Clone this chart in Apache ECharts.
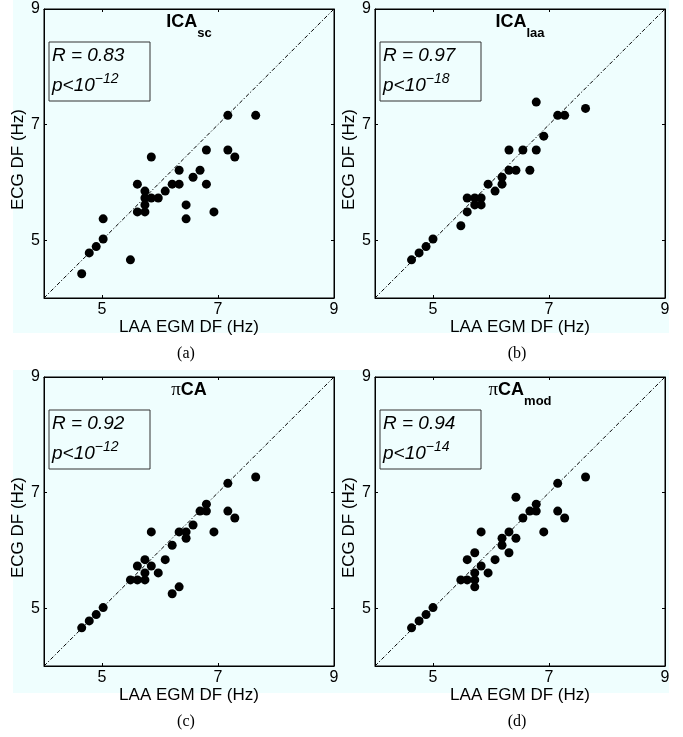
<!DOCTYPE html>
<html>
<head>
<meta charset="utf-8">
<script src="https://cdn.jsdelivr.net/npm/echarts@6/dist/echarts.min.js"></script>
<style>
html,body{margin:0;padding:0;background:#fff;}
#chart{width:683px;height:737px;}
</style>
</head>
<body>
<div id="chart"></div>
<script>
// ---- data ----
const axisMin = 4;
const axisMax = 9;
const tickValues = [5, 7, 9];
const diagLine = [4, 9];

const xA = [4.65,4.78,4.90,5.02,5.02,5.49,5.61,5.61,5.74,5.74,5.74,5.74,5.85,5.85,5.97,6.09,6.21,6.33,6.33,6.45,6.45,6.57,6.69,6.80,6.80,6.93,7.17,7.17,7.29,7.65];
const yA = [4.42,4.78,4.89,5.02,5.37,4.66,5.97,5.49,5.85,5.73,5.61,5.49,6.44,5.73,5.73,5.85,5.97,5.97,6.21,5.61,5.37,6.09,6.21,6.56,5.97,5.49,7.16,6.56,6.44,7.16];

const xB = [4.63,4.76,4.88,5.00,5.48,5.59,5.59,5.72,5.72,5.83,5.83,5.95,6.07,6.19,6.19,6.31,6.31,6.43,6.55,6.67,6.78,6.78,6.91,7.15,7.27,7.63];
const yB = [4.66,4.78,4.89,5.02,5.25,5.73,5.49,5.73,5.61,5.73,5.61,5.97,5.85,6.09,5.97,6.56,6.21,6.21,6.56,6.21,6.56,7.39,6.80,7.16,7.16,7.28];

const xC = [4.65,4.78,4.90,5.02,5.49,5.61,5.74,5.61,5.74,5.74,5.85,5.85,5.97,6.09,6.21,6.21,6.33,6.33,6.45,6.45,6.57,6.69,6.80,6.80,6.93,7.17,7.17,7.29,7.65];
const yC = [4.66,4.78,4.89,5.01,5.49,5.49,5.49,5.73,5.84,5.61,5.73,6.32,5.61,5.84,6.09,5.25,5.37,6.32,6.32,6.21,6.44,6.68,6.68,6.80,6.32,7.16,6.68,6.56,7.27];

const xD = [4.63,4.76,4.88,5.00,5.48,5.59,5.59,5.72,5.72,5.72,5.72,5.83,5.83,5.95,6.07,6.19,6.19,6.31,6.31,6.43,6.43,6.55,6.67,6.78,6.78,6.91,7.15,7.15,7.27,7.63];
const yD = [4.66,4.78,4.89,5.01,5.49,5.49,5.84,5.96,5.61,5.49,5.37,5.73,6.32,5.61,5.84,6.09,6.21,6.32,5.96,6.21,6.92,6.56,6.68,6.68,6.80,6.32,7.16,6.68,6.56,7.27];

const titleMain = ['ICA', 'ICA', 'CA', 'CA'];
const titlePrefix = ['', '', 'π', 'π'];
const titleSub = ['sc', 'laa', '', 'mod'];
const rValues = ['0.83', '0.97', '0.92', '0.94'];
const pExponents = ['−12', '−18', '−12', '−14'];
const captions = ['(a)', '(b)', '(c)', '(d)'];
const xName = 'LAA EGM DF (Hz)';
const yName = 'ECG DF (Hz)';

// ---- layout ----
const FONT = 'Liberation Sans, Arial, Helvetica, sans-serif';
const panels = [
  {left: 44, top: 9},
  {left: 375, top: 9},
  {left: 44, top: 377},
  {left: 375, top: 377}
];
const PW = 290, PH = 289;
const xs = [xA, xB, xC, xD];
const ys = [yA, yB, yC, yD];

const grid = [], xAxis = [], yAxis = [], series = [], graphic = [];

// cyan figure backgrounds (one per row)
graphic.push({type:'rect', z:-100, silent:true, shape:{x:13, y:0, width:656, height:333}, style:{fill:'#effefe'}});
graphic.push({type:'rect', z:-100, silent:true, shape:{x:13, y:370, width:656, height:323}, style:{fill:'#effefe'}});

panels.forEach((p, i) => {
  grid.push({left: p.left, top: p.top, width: PW, height: PH, show: true,
             backgroundColor: 'transparent', borderColor: '#000', borderWidth: 1, containLabel: false});
  const baseAxis = {
    type: 'value', gridIndex: i, min: axisMin, max: axisMax,
    splitLine: {show: false},
    axisLine: {show: true, onZero: false, lineStyle: {color: '#000', width: 1}},
    axisTick: {show: true, inside: true, length: 3, customValues: tickValues, lineStyle: {color: '#000', width: 1}}
  };
  xAxis.push(Object.assign({}, baseAxis, {
    position: 'bottom',
    axisLabel: {customValues: tickValues, fontSize: 16, color: '#000', fontFamily: FONT, margin: 4},
    name: xName, nameLocation: 'middle', nameGap: 17,
    nameTextStyle: {fontSize: 17, color: '#000', fontFamily: FONT}
  }));
  xAxis.push(Object.assign({}, baseAxis, {position: 'top', axisLabel: {show: false}}));
  yAxis.push(Object.assign({}, baseAxis, {
    position: 'left',
    axisLabel: {customValues: tickValues, fontSize: 16, color: '#000', fontFamily: FONT, margin: 4},
    name: yName, nameLocation: 'middle', nameGap: 14,
    nameTextStyle: {fontSize: 17, color: '#000', fontFamily: FONT, padding: [0, 12, 0, 0]}
  }));
  yAxis.push(Object.assign({}, baseAxis, {position: 'right', axisLabel: {show: false}}));

  series.push({
    type: 'line', xAxisIndex: 2*i, yAxisIndex: 2*i, silent: true, symbol: 'none',
    data: [[diagLine[0], diagLine[0]], [diagLine[1], diagLine[1]]],
    lineStyle: {color: '#000', width: 1, type: [4, 2, 1.2, 2]}, z: 1
  });
  series.push({
    type: 'scatter', xAxisIndex: 2*i, yAxisIndex: 2*i, silent: true,
    symbol: 'circle', symbolSize: 9,
    itemStyle: {color: '#000', opacity: 1},
    data: xs[i].map((x, k) => [x, ys[i][k]]), z: 3
  });

  const cx = p.left + PW / 2;
  // title with subscript
  let t = '';
  if (titlePrefix[i]) t += '{pi|' + titlePrefix[i] + '}';
  t += '{b|' + titleMain[i] + '}';
  if (titleSub[i]) t += '{s|' + titleSub[i] + '}';
  graphic.push({
    type: 'text', x: cx, y: p.top + 4, z: 10, silent: true,
    style: {
      text: t, align: 'center', verticalAlign: 'top',
      rich: {
        pi: {fontSize: 19, fontFamily: 'Liberation Serif, serif', fill: '#000', lineHeight: 18, verticalAlign: 'top'},
        b: {fontSize: 18, fontWeight: 'bold', fontFamily: FONT, fill: '#000', lineHeight: 18, verticalAlign: 'top'},
        s: {fontSize: 13, fontWeight: 'bold', fontFamily: FONT, fill: '#000', lineHeight: 13, padding: [14, 0, 0, 0], verticalAlign: 'top'}
      }
    }
  });
  // annotation box
  const bx = p.left + 5, by = p.top + 33;
  graphic.push({type: 'rect', z: 10, silent: true, shape: {x: bx, y: by, width: 101, height: 59},
                style: {fill: 'transparent', stroke: '#333', lineWidth: 1}});
  graphic.push({type: 'text', z: 11, silent: true, x: bx + 3, y: by + 14,
                style: {text: 'R = ' + rValues[i], fontSize: 19, fontStyle: 'italic', fontFamily: FONT, fill: '#000', verticalAlign: 'middle', align: 'left'}});
  graphic.push({type: 'text', z: 11, silent: true, x: bx + 3, y: by + 30,
                style: {text: '{m|p<10}{sup|' + pExponents[i] + '}', align: 'left', verticalAlign: 'top',
                        rich: {
                          m: {fontSize: 19, fontStyle: 'italic', fontFamily: FONT, fill: '#000', lineHeight: 23, verticalAlign: 'bottom'},
                          sup: {fontSize: 14, fontStyle: 'italic', fontFamily: FONT, fill: '#000', lineHeight: 14, verticalAlign: 'top'}
                        }}});
  // caption
  graphic.push({type: 'text', z: 10, silent: true, x: cx - 3, y: p.top + 345,
                style: {text: captions[i], fontSize: 16, fontFamily: 'Liberation Serif, Times New Roman, serif', fill: '#000', align: 'center', verticalAlign: 'middle'}});
});

const chart = echarts.init(document.getElementById('chart'), null, {renderer: 'canvas'});
chart.setOption({
  backgroundColor: '#ffffff',
  animation: false,
  grid, xAxis, yAxis, series, graphic
});
</script>
</body>
</html>
